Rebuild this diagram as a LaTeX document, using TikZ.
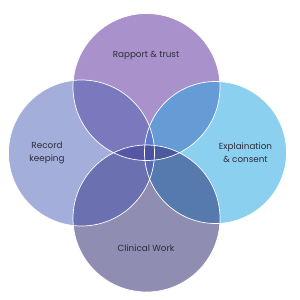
\documentclass[tikz,border=0pt]{standalone}
\usepackage{fontspec}
\setmainfont{Poppins}
\usepackage{tikz}
\usetikzlibrary{positioning}
\definecolor{topC}{HTML}{A992CB}
\definecolor{leftC}{HTML}{A4AEDA}
\definecolor{rightC}{HTML}{8CD0F0}
\definecolor{botC}{HTML}{8F8DB1}
\definecolor{tlC}{HTML}{7A79BE}
\definecolor{trC}{HTML}{659CD6}
\definecolor{lbC}{HTML}{6B70B0}
\definecolor{rbC}{HTML}{5679AE}
\definecolor{tlrC}{HTML}{5E7ACC}
\definecolor{lrbC}{HTML}{5A6AB2}
\definecolor{tblC}{HTML}{5657A4}
\definecolor{tbrC}{HTML}{4A5A9C}
\definecolor{midC}{HTML}{4A52A0}
\definecolor{txtC}{HTML}{2D2D3A}
\tikzset{
  rim/.style={draw=white, line width=0.7pt},
  lbl/.style={font=\fontsize{8.8}{13}\selectfont, text=txtC, align=center},
}

\begin{document}
\begin{tikzpicture}[x=1pt, y=-1pt]
    \useasboundingbox (0,0) rectangle (300,300);
    %% circle centres
    \coordinate (t) at (146.5,87);
    \coordinate (l) at (81.5,153);
    \coordinate (r) at (215.5,152.5);
    \coordinate (b) at (146.5,218.5);
    %% base fills
    \fill[topC] (t) circle (73.5);
    \fill[leftC] (l) circle (73);
    \fill[rightC] (r) circle (71);
    \fill[botC] (b) circle (73.5);
    %% pairwise overlaps
    \begin{scope}
      \clip (t) circle (73.5);
      \fill[tlC] (l) circle (73);
      \fill[trC] (r) circle (71);
    \end{scope}
    \begin{scope}
      \clip (b) circle (73.5);
      \fill[lbC] (l) circle (73);
      \fill[rbC] (r) circle (71);
    \end{scope}
    %% triple overlaps
    \begin{scope}
      \clip (l) circle (73);
      \clip (r) circle (71);
      \fill[tlrC] (t) circle (73.5);
      \fill[lrbC] (b) circle (73.5);
    \end{scope}
    \begin{scope}
      \clip (t) circle (73.5);
      \clip (b) circle (73.5);
      \fill[tblC] (l) circle (73);
      \fill[tbrC] (r) circle (71);
      \clip (l) circle (73);
      \fill[midC] (r) circle (71);
    \end{scope}
    %% white rims
    \draw[rim] (t) circle (73.5);
    \draw[rim] (l) circle (73);
    \draw[rim] (r) circle (71);
    \draw[rim] (b) circle (73.5);
    %% labels
    \node[lbl] (rapport) at (146,56) {Rapport \& trust};
    \node[lbl] (record) at (47,152.5) {Record\\keeping};
    \node[lbl] (explain) at (245.5,152.5) {Explaination\\\& consent};
    \node[lbl] (clinical) at (146,248) {Clinical Work};
\end{tikzpicture}
\end{document}
